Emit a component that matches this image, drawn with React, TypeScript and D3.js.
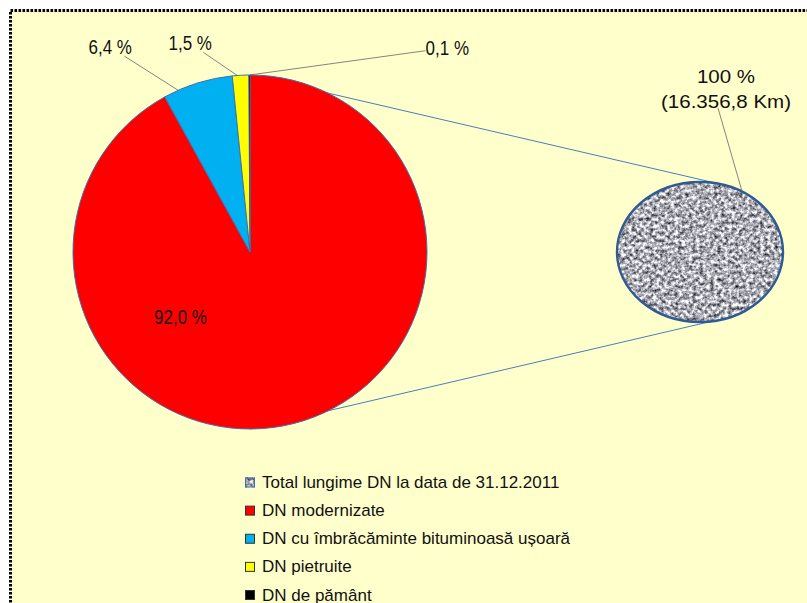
import * as d3 from "d3";

// slices, clockwise from 12 o'clock
const categories = [
  "DN modernizate",
  "DN cu îmbrăcăminte bituminoasă ușoară",
  "DN pietruite",
  "DN de pământ",
];
const values = [92.0, 6.4, 1.5, 0.1];
const labels = ["92,0 %", "6,4 %", "1,5 %", "0,1 %"];
const colors = ["#FF0000", "#00B0F0", "#FFFF00", "#000000"];

const totalName = "Total lungime DN la data de 31.12.2011";
const totalLabel = ["100 %", "(16.356,8 Km)"];

// label placement (polar, degrees clockwise from north) and leader position inside slice
const labelAngle = [227, 325.7, 344, 44];
const labelDist = [95, 248, 217, 284];
const leaderAt = [null, 0.21, 0.3, 0.5];

const W = 807;
const H = 603;
const cx = 250;
const cy = 252;
const r = 177;

const ex = 700;
const ey = 252;
const erx = 83;
const ery = 70;

const font = "'Liberation Sans', Arial, sans-serif";
const rad = Math.PI / 180;

const polar = (a: number, d: number): [number, number] => [
  cx + d * Math.sin(a),
  cy - d * Math.cos(a),
];
const onEllipse = (tDeg: number): [number, number] => [
  ex + erx * Math.cos(tDeg * rad),
  ey + ery * Math.sin(tDeg * rad),
];

// point where the line from box centre toward target leaves the text box
const boxExit = (
  c: [number, number],
  hw: number,
  hh: number,
  t: [number, number]
): [number, number] => {
  const dx = t[0] - c[0];
  const dy = t[1] - c[1];
  const k = Math.min(
    dx !== 0 ? hw / Math.abs(dx) : Infinity,
    dy !== 0 ? hh / Math.abs(dy) : Infinity
  );
  return [c[0] + dx * k, c[1] + dy * k];
};

const App = () => {
  const pie = d3
    .pie<number>()
    .sort(null)
    .value((d) => d)
    .startAngle(0)
    .endAngle(2 * Math.PI);
  const arcs = pie(values);
  const arc = d3.arc<d3.PieArcDatum<number>>().innerRadius(0).outerRadius(r);

  const topLink = onEllipse(-76);
  const botLink = onEllipse(82);
  const totalAnchor = onEllipse(-59.5);

  const legendItems = [totalName, ...categories];
  const legendY = d3
    .scalePoint<string>()
    .domain(legendItems)
    .range([482.5, 595]);

  return (
    <svg
      width={W}
      height={H}
      style={{ position: "absolute", left: 0, top: 0, background: "#fff" }}
    >
      <defs>
        <filter
          id="granite"
          x="0"
          y="0"
          width="1"
          height="1"
          colorInterpolationFilters="sRGB"
        >
          <feTurbulence
            type="fractalNoise"
            baseFrequency="0.28"
            numOctaves={3}
            seed={11}
            result="n"
          />
          <feColorMatrix
            in="n"
            type="matrix"
            values="1.5 0 0 0 -0.07  1.5 0 0 0 -0.07  1.5 0 0 0 -0.04  0 0 0 0 1"
          />
        </filter>
        <clipPath id="ellClip">
          <ellipse cx={ex} cy={ey} rx={erx} ry={ery} />
        </clipPath>
      </defs>

      <rect
        x={10.5}
        y={10.5}
        width={W + 40}
        height={H + 40}
        fill="#FFFFCC"
        stroke="#000"
        strokeWidth={3}
        strokeDasharray="2.6 1.4"
      />

      {/* connectors to the total ellipse */}
      <line
        x1={cx}
        y1={cy - r}
        x2={topLink[0]}
        y2={topLink[1]}
        stroke="#4A7EBB"
        strokeWidth={1}
      />
      <line
        x1={cx}
        y1={cy + r}
        x2={botLink[0]}
        y2={botLink[1]}
        stroke="#4A7EBB"
        strokeWidth={1}
      />

      <g transform={`translate(${cx},${cy})`}>
        {arcs.map((a, i) => (
          <path
            key={i}
            d={arc(a) || ""}
            fill={colors[i]}
            stroke="#3F6FB0"
            strokeWidth={i === 3 ? 0.6 : 1}
          />
        ))}
      </g>

      {/* total ellipse */}
      <g clipPath="url(#ellClip)">
        <rect
          x={ex - erx}
          y={ey - ery}
          width={erx * 2}
          height={ery * 2}
          filter="url(#granite)"
        />
      </g>
      <ellipse
        cx={ex}
        cy={ey}
        rx={erx}
        ry={ery}
        fill="none"
        stroke="#2E5A95"
        strokeWidth={2.4}
      />

      {/* slice labels */}
      {arcs.map((a, i) => {
        const [lx, ly] = polar(labelAngle[i] * rad, labelDist[i]);
        const f = leaderAt[i];
        let leader = null;
        if (f !== null) {
          const aa = a.startAngle + (a.endAngle - a.startAngle) * f;
          const end = polar(aa, r);
          const start = boxExit([lx, ly], 22, 9, end);
          leader = (
            <line
              x1={start[0]}
              y1={start[1]}
              x2={end[0]}
              y2={end[1]}
              stroke="#666"
              strokeWidth={0.8}
            />
          );
        }
        return (
          <g key={i}>
            {leader}
            <text
              transform={`translate(${lx},${ly}) scale(0.87,1)`}
              textAnchor="middle"
              dominantBaseline="central"
              fontFamily={font}
              fontSize={19.5}
              fill="#111"
            >
              {labels[i]}
            </text>
          </g>
        );
      })}

      {/* total label */}
      <line
        x1={718}
        y1={108}
        x2={totalAnchor[0]}
        y2={totalAnchor[1]}
        stroke="#666"
        strokeWidth={0.8}
      />
      {totalLabel.map((t, i) => (
        <text
          key={i}
          transform={`translate(726,${77 + i * 25}) scale(1.14,1)`}
          textAnchor="middle"
          dominantBaseline="central"
          fontFamily={font}
          fontSize={18}
          fill="#111"
        >
          {t}
        </text>
      ))}

      {/* legend */}
      {legendItems.map((name, i) => {
        const y = legendY(name) as number;
        return (
          <g key={name}>
            {i === 0 ? (
              <>
                <rect
                  x={245}
                  y={y - 5}
                  width={10}
                  height={10}
                  filter="url(#granite)"
                />
                <rect
                  x={245.5}
                  y={y - 4.5}
                  width={9}
                  height={9}
                  fill="none"
                  stroke="#3F6FB0"
                  strokeWidth={1}
                />
              </>
            ) : (
              <rect
                x={245.5}
                y={y - 4.5}
                width={9}
                height={9}
                fill={colors[i - 1]}
                stroke="#333"
                strokeWidth={1}
              />
            )}
            <text
              x={262}
              y={y}
              dominantBaseline="central"
              fontFamily={font}
              fontSize={17}
              fill="#111"
            >
              {name}
            </text>
          </g>
        );
      })}
    </svg>
  );
};

export default App;
